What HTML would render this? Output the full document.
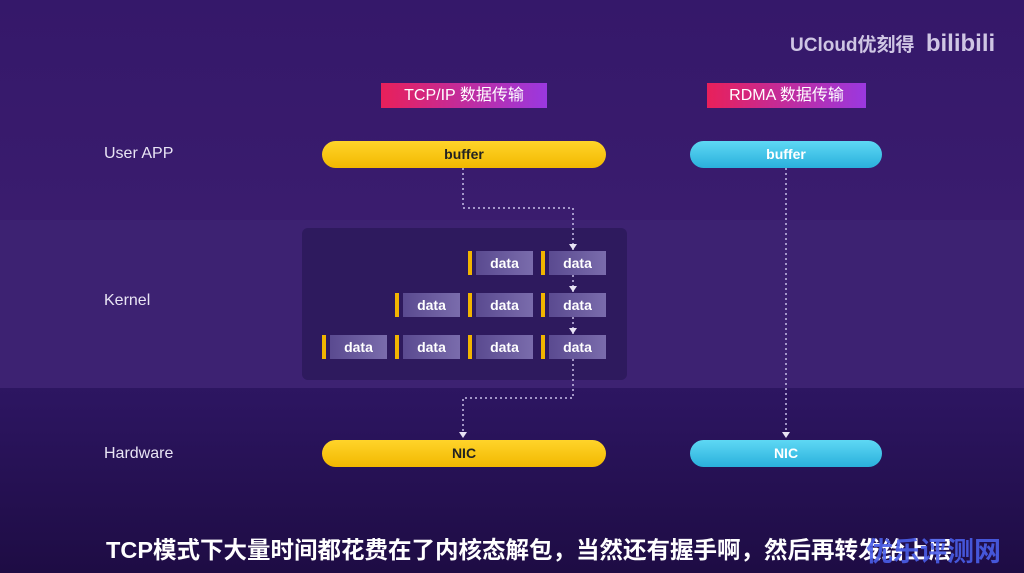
<!DOCTYPE html><html><head><meta charset="utf-8"><style>
body{margin:0;width:1024px;height:573px;overflow:hidden;font-family:"Liberation Sans","Noto Sans CJK SC",sans-serif;background:#2a1458;position:relative}
.a{position:absolute}
.bg{left:0;top:0;width:1024px;height:573px;background:linear-gradient(180deg,#35186a 0%,#3a1c6e 38%,#2c1560 70%,#1e0c44 100%)}
.band{left:0;top:220px;width:1024px;height:168px;background:#3d2272}
.lab{color:#e8e4f4;font-size:16px}
.pill{height:27px;border-radius:14px;color:#222;font-weight:bold;font-size:14px;text-align:center;line-height:27px}
.y{background:linear-gradient(180deg,#ffd42a,#f2b800)}
.c{background:linear-gradient(180deg,#5ed8f4,#2ab0dc);color:#fff}
.tag{height:25px;color:#fff;font-size:16px;line-height:25px;text-align:center}
.cell{width:57px;height:24px;background:linear-gradient(90deg,#5a4a90,#7a6cac);color:#fff;font-weight:bold;font-size:14px;text-align:center;line-height:24px}
.bar{width:4px;height:24px;background:#f2b400}
</style></head><body>
<div class="a bg"></div><div class="a band"></div>
<div class="a" style="left:302px;top:228px;width:325px;height:152px;background:#2e1a5e;border-radius:6px"></div>
<div class="a lab" style="left:790px;top:30px;font-size:19px;color:#cfc6e4;font-weight:bold">UCloud优刻得 <span style="font-size:24px;margin-left:6px">bilibili</span></div>
<div class="a tag" style="left:381px;top:83px;width:166px;background:linear-gradient(90deg,#e8205a,#9a38e0)">TCP/IP 数据传输</div>
<div class="a tag" style="left:707px;top:83px;width:159px;background:linear-gradient(90deg,#e8205a,#9a38e0)">RDMA 数据传输</div>
<div class="a lab" style="left:104px;top:145px">User APP</div>
<div class="a lab" style="left:104px;top:292px">Kernel</div>
<div class="a lab" style="left:104px;top:445px">Hardware</div>
<div class="a pill y" style="left:322px;top:141px;width:284px">buffer</div>
<div class="a pill c" style="left:690px;top:141px;width:192px">buffer</div>
<div class="a pill y" style="left:322px;top:440px;width:284px">NIC</div>
<div class="a pill c" style="left:690px;top:440px;width:192px">NIC</div>
<svg class="a" style="left:0;top:0" width="1024" height="573"><g fill="none" stroke="#c8c0e8" stroke-width="1.5" stroke-dasharray="2,3">
<path d="M463 168V208H573V250"/><path d="M573 275V292M573 317V334M573 359V398H463V438"/><path d="M786 168V438"/></g>
<g fill="#e8e4f4"><path d="M569 244h8l-4 6z"/><path d="M569 286h8l-4 6z"/><path d="M569 328h8l-4 6z"/><path d="M459 432h8l-4 6z"/><path d="M782 432h8l-4 6z"/></g></svg>
<div class="a bar" style="left:468px;top:251px"></div><div class="a cell" style="left:476px;top:251px">data</div>
<div class="a bar" style="left:541px;top:251px"></div><div class="a cell" style="left:549px;top:251px">data</div>
<div class="a bar" style="left:395px;top:293px"></div><div class="a cell" style="left:403px;top:293px">data</div>
<div class="a bar" style="left:468px;top:293px"></div><div class="a cell" style="left:476px;top:293px">data</div>
<div class="a bar" style="left:541px;top:293px"></div><div class="a cell" style="left:549px;top:293px">data</div>
<div class="a bar" style="left:322px;top:335px"></div><div class="a cell" style="left:330px;top:335px">data</div>
<div class="a bar" style="left:395px;top:335px"></div><div class="a cell" style="left:403px;top:335px">data</div>
<div class="a bar" style="left:468px;top:335px"></div><div class="a cell" style="left:476px;top:335px">data</div>
<div class="a bar" style="left:541px;top:335px"></div><div class="a cell" style="left:549px;top:335px">data</div>
<div class="a" style="left:106px;top:531px;color:#fff;font-size:23.5px;font-weight:bold;white-space:nowrap">TCP模式下大量时间都花费在了内核态解包，当然还有握手啊，然后再转发给上层</div>
<div class="a" style="left:866px;top:530px;color:#4a5ee8;font-size:27px;font-weight:bold;opacity:.9">优乐评测网</div>
</body></html>
